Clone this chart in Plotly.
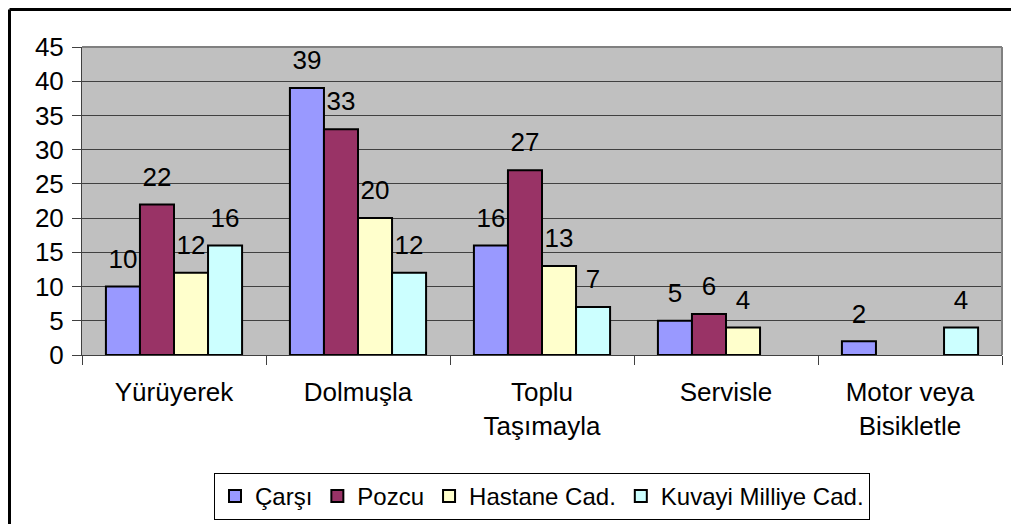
import plotly.graph_objects as go

categories = ["Yürüyerek", "Dolmuşla", "Toplu<br>Taşımayla", "Servisle", "Motor veya<br>Bisikletle"]
series_names = ["Çarşı", "Pozcu", "Hastane Cad.", "Kuvayi Milliye Cad."]
carsi = [10, 39, 16, 5, 2]
pozcu = [22, 33, 27, 6, None]
hastane = [12, 20, 13, 4, None]
kuvayi = [16, 12, 7, None, 4]
colors = ["#9999FF", "#993366", "#FFFFCC", "#CCFFFF"]
y_ticks = [0, 5, 10, 15, 20, 25, 30, 35, 40, 45]

FONT = "Liberation Sans, Arial, sans-serif"
series = [carsi, pozcu, hastane, kuvayi]

fig = go.Figure()
for i, (name, vals) in enumerate(zip(series_names, series)):
    fig.add_trace(go.Bar(
        x=categories, y=vals, name=name,
        marker=dict(color=colors[i], line=dict(color="black", width=2)),
        offsetgroup=str(i), hoverinfo="skip",
    ))
for i, (name, vals) in enumerate(zip(series_names, series)):
    fig.add_trace(go.Scatter(
        x=categories, y=vals, mode="markers+text",
        text=[("" if v is None else str(v)) for v in vals],
        textposition="top center",
        textfont=dict(family=FONT, size=26, color="black"),
        marker=dict(size=18, opacity=0),
        offsetgroup=str(i), orientation="v",
        showlegend=False, hoverinfo="skip", cliponaxis=False,
    ))

# page body has an 8px margin: figure coords = screen coords - 8
OFF = 8
W, H = 1019, 524
L = 82 - OFF
T = 47 - OFF
R = W - (1002 - OFF)
B = H - (355 - OFF)
pw, ph = W - L - R, H - T - B
def px(x):
    return (x - OFF - L) / pw
def py(y):
    return (H - B - (y - OFF)) / ph

fig.update_layout(
    width=W, height=H,
    margin=dict(l=L, r=R, t=T, b=B, autoexpand=False),
    paper_bgcolor="white", plot_bgcolor="#C0C0C0",
    barmode="group", bargap=0.26, bargroupgap=0,
    scattermode="group", scattergap=0.26,
    font=dict(family=FONT, size=26, color="black"),
    xaxis=dict(
        type="category", tickson="boundaries", ticks="outside", ticklen=9,
        tickcolor="#404040", tickwidth=1, showline=True, linecolor="#404040",
        linewidth=1, showgrid=False, tickfont=dict(size=26),
        ticklabelstandoff=14, automargin=False,
    ),
    yaxis=dict(
        range=[0, 45], tickvals=y_ticks, ticks="outside", ticklen=9,
        tickcolor="#404040", showline=True, linecolor="#404040", linewidth=1,
        gridcolor="#404040", gridwidth=1, zeroline=False,
        tickfont=dict(size=26), ticklabelstandoff=3, automargin=False,
    ),
    legend=dict(
        orientation="h", x=0.5, xanchor="center",
        yref="container", y=(H - (473 - OFF)) / H, yanchor="top",
        bordercolor="black", borderwidth=1, bgcolor="white",
        font=dict(size=24), itemwidth=30, tracegroupgap=0,
    ),
    shapes=[
        dict(type="line", xref="paper", yref="paper", x0=0, x1=1, y0=1, y1=1,
             line=dict(color="#808080", width=2)),
        dict(type="line", xref="paper", yref="paper", x0=1, x1=1, y0=0, y1=1,
             line=dict(color="#808080", width=2)),
        dict(type="line", xref="paper", yref="paper", x0=px(9.5), x1=px(1040),
             y0=py(9.5), y1=py(9.5), line=dict(color="black", width=3)),
        dict(type="line", xref="paper", yref="paper", x0=px(9.5), x1=px(9.5),
             y0=py(9.5), y1=py(560), line=dict(color="black", width=3)),
    ],
)

fig.write_html("out.html")
